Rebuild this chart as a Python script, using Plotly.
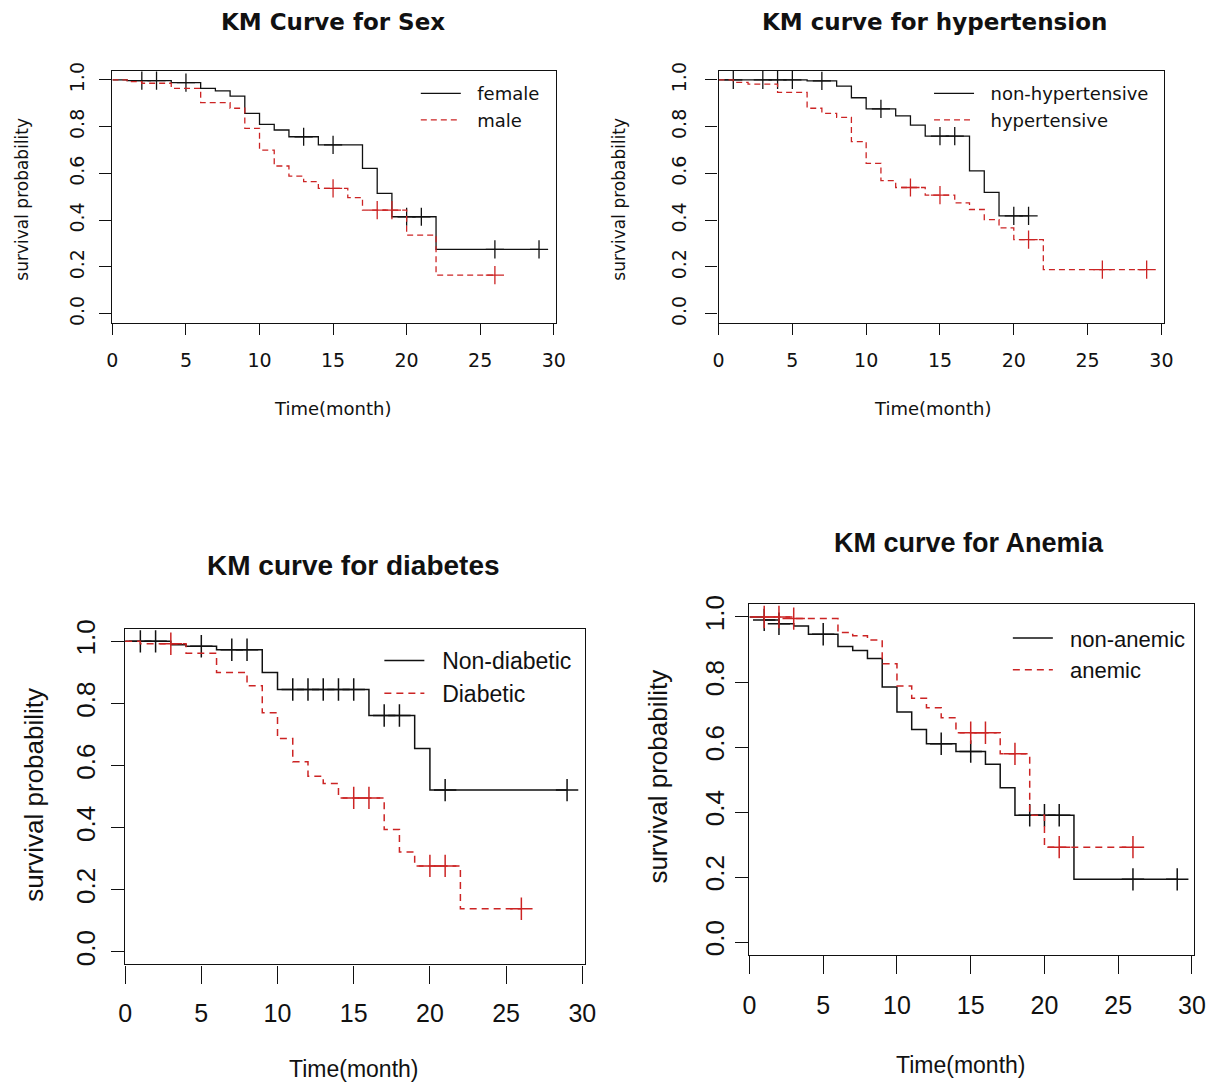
import numpy as np
import plotly.graph_objects as go

W, H = 1207, 1091

# ---------------- Kaplan-Meier step estimates (time in months) ----------------
# Sex
female_time = [0, 1, 4, 6, 7, 8, 9, 10, 11, 12, 14, 17, 18, 19, 22, 29]
female_surv = [1.0, 0.997, 0.989, 0.964, 0.953, 0.931, 0.857, 0.81, 0.786, 0.757, 0.722, 0.622, 0.515, 0.415, 0.275, 0.275]
female_cens = [2, 3, 5, 13, 15, 20, 21, 26, 29]
male_time = [0, 1, 2, 4, 6, 8, 9, 10, 11, 12, 13, 14, 16, 17, 20, 22, 26]
male_surv = [1.0, 0.993, 0.986, 0.964, 0.903, 0.879, 0.793, 0.70, 0.632, 0.589, 0.565, 0.536, 0.497, 0.443, 0.336, 0.165, 0.165]
male_cens = [15, 18, 19, 26]

# Hypertension
nonhyp_time = [0, 6, 8, 9, 10, 12, 13, 14, 17, 18, 19, 21]
nonhyp_surv = [1.0, 0.996, 0.974, 0.924, 0.876, 0.846, 0.807, 0.76, 0.611, 0.519, 0.419, 0.419]
nonhyp_cens = [1, 3, 4, 5, 7, 11, 15, 16, 20, 21]
hyp_time = [0, 1, 2, 4, 6, 7, 8, 9, 10, 11, 12, 14, 16, 17, 18, 19, 20, 22, 29]
hyp_surv = [1.0, 0.99, 0.982, 0.947, 0.879, 0.857, 0.84, 0.736, 0.643, 0.569, 0.54, 0.507, 0.474, 0.446, 0.403, 0.367, 0.317, 0.189, 0.189]
hyp_cens = [13, 15, 21, 26, 29]

# Diabetes
nondiab_time = [0, 3, 4, 6, 9, 10, 16, 19, 20, 29]
nondiab_surv = [1.0, 0.989, 0.984, 0.973, 0.9, 0.845, 0.761, 0.655, 0.521, 0.521]
nondiab_cens = [1, 2, 5, 7, 8, 11, 12, 13, 14, 15, 17, 18, 21, 29]
diab_time = [0, 1, 4, 6, 8, 9, 10, 11, 12, 13, 14, 17, 18, 19, 22, 26]
diab_surv = [1.0, 0.992, 0.962, 0.9, 0.857, 0.77, 0.687, 0.612, 0.566, 0.542, 0.496, 0.394, 0.322, 0.277, 0.139, 0.139]
diab_cens = [3, 15, 16, 20, 21, 26]

# Anemia
nonanem_time = [0, 1, 2, 3, 4, 6, 7, 8, 9, 10, 11, 12, 14, 16, 17, 18, 22, 29]
nonanem_surv = [1.0, 0.991, 0.979, 0.972, 0.947, 0.909, 0.897, 0.872, 0.785, 0.708, 0.654, 0.61, 0.586, 0.547, 0.475, 0.39, 0.193, 0.193]
nonanem_cens = [1, 2, 5, 13, 15, 19, 20, 21, 26, 29]
anem_time = [0, 3, 6, 7, 8, 9, 10, 11, 12, 13, 14, 17, 19, 20, 26]
anem_surv = [1.0, 0.995, 0.952, 0.942, 0.929, 0.856, 0.788, 0.75, 0.721, 0.69, 0.644, 0.579, 0.39, 0.292, 0.292]
anem_cens = [1, 2, 3, 15, 16, 18, 21, 26]

x_ticks = [0, 5, 10, 15, 20, 25, 30]
y_ticks = [0.0, 0.2, 0.4, 0.6, 0.8, 1.0]
y_ticktext = ["0.0", "0.2", "0.4", "0.6", "0.8", "1.0"]

BLACK = "#111111"
RED = "#cc2424"
TOP_FONT = "DejaVu Sans"
BOT_FONT = "Liberation Sans, Arial, sans-serif"
NBSP = "\u00a0"


def surv_at(times, surv, t):
    idx = np.searchsorted(np.asarray(times), t, side="right") - 1
    return surv[idx]


def fx(px):
    return px / W


def fy(py):
    return 1 - py / H


panels = [
    dict(title="KM Curve for Sex", box=(107.0, 62.3, 557.4, 317.6),
         groups=[("female", female_time, female_surv, female_cens, BLACK, "solid"),
                 ("male", male_time, male_surv, male_cens, RED, "dash")],
         font=TOP_FONT, title_size=23, title_pos=(331, 13), tick_size=19, ytick_size=19,
         xlab_size=18, xlab_pos=(331, 404), ylab_pos=(15, 192), ylab_size=17,
         leg_pos=(415, 67), leg_size=18, ticklen_x=11, ticklen_y=12,
         xstand=9, ystand=8, marker_size=13, lw=1.3, dash="6px,4px"),
    dict(title="KM curve for hypertension", box=(722.3, 62.3, 1174.3, 317.6),
         groups=[("non-hypertensive", nonhyp_time, nonhyp_surv, nonhyp_cens, BLACK, "solid"),
                 ("hypertensive", hyp_time, hyp_surv, hyp_cens, RED, "dash")],
         font=TOP_FONT, title_size=23, title_pos=(942, 13), tick_size=19, ytick_size=19,
         xlab_size=18, xlab_pos=(940, 404), ylab_pos=(621, 192), ylab_size=17,
         leg_pos=(936, 67), leg_size=18, ticklen_x=11, ticklen_y=12,
         xstand=9, ystand=12, marker_size=13, lw=1.3, dash="6px,4px"),
    dict(title="KM curve for diabetes", box=(119.9, 626.8, 586.5, 966.0),
         groups=[("Non-diabetic", nondiab_time, nondiab_surv, nondiab_cens, BLACK, "solid"),
                 ("Diabetic", diab_time, diab_surv, diab_cens, RED, "dash")],
         font=BOT_FONT, title_size=28, title_pos=(352, 563), tick_size=25, ytick_size=26,
         xlab_size=23, xlab_pos=(352, 1072), ylab_pos=(28, 795), ylab_size=26,
         leg_pos=(378, 637), leg_size=23, ticklen_x=18, ticklen_y=13,
         xstand=8, ystand=6, marker_size=16, lw=1.5, dash="7px,5px"),
    dict(title="KM curve for Anemia", box=(753.7, 601.6, 1205.3, 956.6),
         groups=[("non-anemic", nonanem_time, nonanem_surv, nonanem_cens, BLACK, "solid"),
                 ("anemic", anem_time, anem_surv, anem_cens, RED, "dash")],
         font=BOT_FONT, title_size=27, title_pos=(977, 540), tick_size=25, ytick_size=26,
         xlab_size=23, xlab_pos=(968, 1068), ylab_pos=(661, 776), ylab_size=26,
         leg_pos=(1016, 615), leg_size=22, ticklen_x=18, ticklen_y=13,
         xstand=10, ystand=1, marker_size=16, lw=1.5, dash="7px,5px"),
]

fig = go.Figure()
annotations = []
layout_axes = {}

for i, p in enumerate(panels, start=1):
    sfx = "" if i == 1 else str(i)
    xa, ya = "x" + sfx, "y" + sfx
    legend_name = "legend" + sfx
    x0, y0, x1, y1 = p["box"]

    for name, times, surv, cens, color, dash in p["groups"]:
        fig.add_trace(go.Scatter(
            x=times, y=surv, mode="lines", line_shape="hv", name=NBSP * 2 + name,
            line=dict(color=color, width=p["lw"], dash=(p["dash"] if dash == "dash" else "solid")),
            xaxis=xa, yaxis=ya, legend=legend_name, hoverinfo="skip"))
        fig.add_trace(go.Scatter(
            x=cens, y=[surv_at(times, surv, c) for c in cens], mode="markers",
            marker=dict(symbol="cross-thin", size=p["marker_size"],
                        line=dict(color=color, width=p["lw"])),
            xaxis=xa, yaxis=ya, showlegend=False, hoverinfo="skip"))

    layout_axes["xaxis" + sfx] = dict(
        domain=[fx(x0), fx(x1)], range=[0, 30.16], anchor=ya,
        tickmode="array", tickvals=x_ticks, ticktext=[str(v) for v in x_ticks],
        ticks="outside", ticklen=p["ticklen_x"], tickwidth=1.3, tickcolor=BLACK,
        showline=True, mirror=True, linecolor=BLACK, linewidth=1.3,
        showgrid=False, zeroline=False,
        tickfont=dict(family=p["font"], size=p["tick_size"], color=BLACK),
        ticklabelstandoff=p["xstand"], fixedrange=True)
    layout_axes["yaxis" + sfx] = dict(
        domain=[fy(y1), fy(y0)], range=[-0.04, 1.04], anchor=xa,
        tickmode="array", tickvals=y_ticks, ticktext=y_ticktext, tickangle=-90,
        ticks="outside", ticklen=p["ticklen_y"], tickwidth=1.3, tickcolor=BLACK,
        showline=True, mirror=True, linecolor=BLACK, linewidth=1.3,
        showgrid=False, zeroline=False,
        tickfont=dict(family=p["font"], size=p["ytick_size"], color=BLACK),
        ticklabelstandoff=p["ystand"], fixedrange=True)

    layout_axes[legend_name] = dict(
        x=fx(p["leg_pos"][0]), y=fy(p["leg_pos"][1]), xanchor="left", yanchor="top",
        bgcolor="rgba(0,0,0,0)", borderwidth=0, itemwidth=40, tracegroupgap=0,
        font=dict(family=p["font"], size=p["leg_size"], color=BLACK))

    annotations.append(dict(
        text="<b>" + p["title"] + "</b>", x=fx(p["title_pos"][0]), y=fy(p["title_pos"][1]),
        xref="paper", yref="paper", showarrow=False, xanchor="center", yanchor="middle",
        font=dict(family=p["font"], size=p["title_size"], color=BLACK)))
    annotations.append(dict(
        text="Time(month)", x=fx(p["xlab_pos"][0]), y=fy(p["xlab_pos"][1]),
        xref="paper", yref="paper", showarrow=False, xanchor="center", yanchor="middle",
        font=dict(family=p["font"], size=p["xlab_size"], color=BLACK)))
    annotations.append(dict(
        text="survival probability", x=fx(p["ylab_pos"][0]), y=fy(p["ylab_pos"][1]),
        xref="paper", yref="paper", showarrow=False, xanchor="center", yanchor="middle",
        textangle=-90, font=dict(family=p["font"], size=p["ylab_size"], color=BLACK)))

fig.update_layout(
    width=W, height=H, autosize=False,
    margin=dict(l=0, r=0, t=0, b=0, pad=0),
    paper_bgcolor="white", plot_bgcolor="white",
    annotations=annotations, **layout_axes)

fig.write_html("out.html", config={"displayModeBar": False})
